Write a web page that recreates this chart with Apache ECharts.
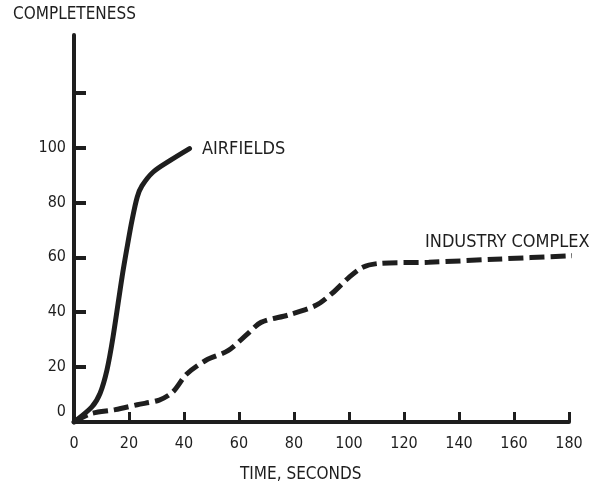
<!DOCTYPE html>
<html>
<head>
<meta charset="utf-8">
<script src="https://cdn.jsdelivr.net/npm/echarts@6/dist/echarts.min.js"></script>
<style>
html,body{margin:0;padding:0;background:#fff;}
#chart{width:595px;height:486px;}
</style>
</head>
<body>
<div id="chart"></div>
<script>
// Data
const airfields = [[0,0],[6.5,5.5],[9.5,10.5],[12,19],[14.2,31],[17.5,53],[19.3,63.6],[21.1,73.5],[23,82],[24.7,86],[28.7,91],[35,95.3],[42,99.6]];
const industryComplex = [[0,0],[6,3],[15,4.5],[23,6.3],[31,8],[36,11],[41,17.5],[48,22.5],[56,26],[63,32],[68,36.3],[78,39],[88,42.5],[94,47],[100,52.7],[105,56.4],[111,57.8],[129,58.2],[153,59.3],[183,60.7]];
const yTicks = [20,40,60,80,100,120];
const yLabels = [0,20,40,60,80,100];
const xTicks = [20,40,60,80,100,120,140,160,180];
const xLabels = [0,20,40,60,80,100,120,140,160,180];
const yTitle = 'COMPLETENESS';
const xTitle = 'TIME, SECONDS';
const labelA = 'AIRFIELDS';
const labelB = 'INDUSTRY COMPLEX';

const FONT = '"Liberation Sans Narrow", "DejaVu Sans Condensed", sans-serif';
const INK = '#1e1e1e';

const chart = echarts.init(document.getElementById('chart'), null, {renderer:'canvas'});
chart.setOption({
  animation: false,
  backgroundColor: '#fff',
  grid: {left: 74, right: 26, top: 35, bottom: 64, containLabel: false, outerBoundsMode: 'none'},
  xAxis: {
    type: 'value', min: 0, max: 180,
    axisLine: {show: true, onZero: false, lineStyle: {color: INK, width: 4}},
    axisTick: {show: true, inside: true, length: 10, customValues: xTicks, lineStyle: {color: INK, width: 3}},
    axisLabel: {customValues: xLabels, margin: 14, color: INK, fontSize: 16, fontFamily: FONT},
    splitLine: {show: false}
  },
  yAxis: {
    type: 'value', min: 0, max: 141,
    axisLine: {show: true, onZero: false, lineStyle: {color: INK, width: 4}},
    axisTick: {show: true, inside: true, length: 12, customValues: yTicks, lineStyle: {color: INK, width: 4}},
    axisLabel: {customValues: yLabels, margin: 8, color: INK, fontSize: 16, fontFamily: FONT,
      formatter: v => v === 0 ? '{z|0}' : String(v),
      rich: {z: {fontSize: 16, fontFamily: FONT, color: INK, padding: [0,0,20,0]}}},
    splitLine: {show: false}
  },
  series: [
    {type: 'line', data: airfields, smooth: 0.3, showSymbol: false, clip: false,
     lineStyle: {color: INK, width: 5, cap: 'round', join: 'round'}},
    {type: 'line', data: industryComplex, smooth: 0.3, showSymbol: false, clip: false,
     lineStyle: {color: INK, width: 5, type: [15,6], cap: 'butt'}}
  ],
  graphic: [
    {type: 'text', left: 13, top: 6, style: {text: yTitle, font: '17px ' + FONT, fill: INK, letterSpacing: 0}},
    {type: 'text', left: 240, top: 466, style: {text: xTitle, font: '17px ' + FONT, fill: INK, letterSpacing: 2.2}},
    {type: 'text', left: 202, top: 140, style: {text: labelA, font: '18px ' + FONT, fill: INK, letterSpacing: 2.5}},
    {type: 'text', left: 425, top: 233, style: {text: labelB, font: '18px ' + FONT, fill: INK, letterSpacing: 1.5}}
  ]
});
</script>
</body>
</html>
